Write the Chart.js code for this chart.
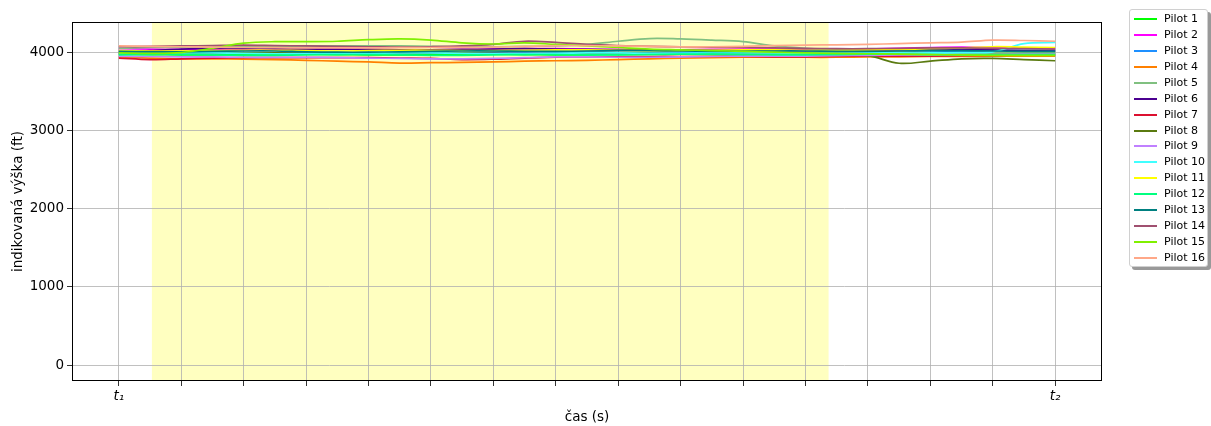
<!DOCTYPE html>
<html>
<head>
<meta charset="utf-8">
<script src="https://cdn.jsdelivr.net/npm/chart.js@4"></script>
<style>
  body { margin: 0; background: #fff; font-family: "DejaVu Sans", sans-serif; }
  #wrap { position: relative; width: 1211px; height: 426px; }
  #legend {
    position: absolute; left: 1129px; top: 9px; width: 79px; height: 258px;
    background: #fff; border: 1px solid #d0d0d0; border-radius: 3px;
    box-shadow: 3px 3px 0 #999; box-sizing: border-box;
  }
  .row { position: absolute; left: 0; height: 16px; width: 79px; font-size: 11px; color: #000; }
  .row i { position: absolute; left: 4px; top: 7px; width: 23px; height: 2px; }
  .row span { position: absolute; left: 34px; top: 1px; white-space: nowrap; }
</style>
</head>
<body>
<div id="wrap">
  <canvas id="chart" width="1211" height="426"></canvas>
  <div id="legend"></div>
</div>
<script>
/* ===============================
   DATA
================================ */
// time samples, in tick units (t1 = 0, t2 = 15)
const times = [0, 0.5, 1, 1.5, 2, 2.5, 3, 3.5, 4, 4.5, 5, 5.5, 6, 6.5, 7, 7.5,
  8, 8.5, 9, 9.5, 10, 10.5, 11, 11.5, 12, 12.5, 13, 13.5, 14, 14.5, 15];

const pilotNames = ["Pilot 1", "Pilot 2", "Pilot 3", "Pilot 4", "Pilot 5", "Pilot 6",
  "Pilot 7", "Pilot 8", "Pilot 9", "Pilot 10", "Pilot 11", "Pilot 12", "Pilot 13",
  "Pilot 14", "Pilot 15", "Pilot 16"];

const pilotColors = ["#00ff00", "#ff00ff", "#1e90ff", "#ff8000", "#80c080", "#4b0090",
  "#dc1030", "#5a7a10", "#c080ff", "#40ffff", "#ffff00", "#00ff80", "#008080",
  "#a05070", "#80f000", "#ffa888"];

const pilot1 = [3985, 3980, 3975, 3975, 3980, 3985, 3985, 3980, 3975, 3975, 3980, 3985, 3985, 3980, 3975, 3975,
  3980, 3985, 3985, 3980, 3980, 3985, 3985, 3980, 3975, 3975, 3980, 3985, 3990, 3990, 3990];
const pilot2 = [4055, 4050, 4045, 4040, 4040, 4045, 4050, 4050, 4045, 4040, 4040, 4045, 4050, 4055, 4055, 4050,
  4045, 4040, 4040, 4045, 4050, 4050, 4045, 4045, 4050, 4060, 4070, 4075, 4070, 4065, 4060];
const pilot3 = [4000, 4005, 4010, 4010, 4005, 4000, 3995, 3990, 3990, 3995, 4000, 4005, 4010, 4015, 4015, 4010,
  4005, 4000, 4000, 4005, 4010, 4010, 4005, 4000, 4000, 4005, 4010, 4020, 4030, 4035, 4035];
const pilot4 = [3950, 3935, 3925, 3925, 3920, 3915, 3905, 3895, 3885, 3870, 3875, 3880, 3885, 3895, 3900, 3905,
  3915, 3925, 3935, 3940, 3945, 3945, 3945, 3945, 3950, 3950, 3955, 3955, 3960, 3960, 3960];
const pilot5 = [4060, 4070, 4075, 4080, 4085, 4085, 4090, 4090, 4090, 4090, 4085, 4080, 4080, 4085, 4090, 4110,
  4150, 4185, 4180, 4165, 4145, 4090, 4060, 4045, 4030, 4010, 4000, 4000, 4000, 4005, 4005];
const pilot6 = [4020, 4030, 4050, 4060, 4060, 4055, 4050, 4050, 4045, 4040, 4040, 4045, 4050, 4055, 4050, 4045,
  4040, 4040, 4040, 4035, 4035, 4030, 4030, 4030, 4035, 4040, 4045, 4045, 4040, 4030, 4025];
const pilot7 = [3935, 3915, 3925, 3935, 3940, 3940, 3940, 3940, 3940, 3935, 3930, 3915, 3920, 3935, 3945, 3950,
  3950, 3955, 3955, 3955, 3955, 3950, 3950, 3955, 3960, 3960, 3960, 3965, 3970, 3975, 3975];
const pilot8 = [3995, 3990, 3990, 3995, 4000, 4000, 3995, 3990, 3990, 3995, 4000, 4000, 3995, 3990, 3990, 3995,
  4000, 3995, 3990, 3990, 3990, 3985, 3985, 3980, 3965, 3868, 3895, 3925, 3930, 3915, 3900];
const pilot9 = [3960, 3955, 3950, 3950, 3945, 3945, 3945, 3940, 3935, 3930, 3925, 3925, 3930, 3940, 3950, 3950,
  3945, 3945, 3950, 3955, 3960, 3960, 3960, 3965, 3970, 3975, 3975, 3980, 3980, 3985, 3985];
const pilot10 = [3990, 3995, 4000, 4000, 3995, 3990, 3990, 3990, 3995, 4000, 4000, 3995, 3990, 3990, 3995, 4000,
  4000, 3995, 3995, 4000, 4000, 4000, 3995, 3995, 4000, 4000, 4000, 4005, 4015, 4120, 4135];
const pilot11 = [4030, 4025, 4025, 4030, 4035, 4035, 4030, 4025, 4030, 4035, 4035, 4030, 4030, 4035, 4040, 4040,
  4035, 4030, 4030, 4035, 4040, 4040, 4035, 4035, 4040, 4045, 4055, 4065, 4080, 4075, 4070];
const pilot12 = [3975, 3980, 3980, 3975, 3970, 3970, 3975, 3980, 3980, 3975, 3970, 3970, 3975, 3980, 3980, 3975,
  3975, 3980, 3985, 3985, 3980, 3975, 3975, 3980, 3985, 3985, 3980, 3975, 3975, 3980, 3980];
const pilot13 = [4020, 4015, 4015, 4020, 4025, 4025, 4015, 4010, 4010, 4015, 4020, 4025, 4025, 4020, 4020, 4025,
  4030, 4030, 4025, 4020, 4020, 4025, 4025, 4020, 4020, 4025, 4030, 4030, 4025, 4020, 4020];
const pilot14 = [4080, 4085, 4090, 4095, 4100, 4095, 4090, 4085, 4080, 4075, 4080, 4090, 4110, 4150, 4135, 4110,
  4095, 4085, 4080, 4075, 4070, 4065, 4060, 4055, 4055, 4060, 4065, 4065, 4060, 4055, 4050];
const pilot15 = [4000, 3995, 4005, 4060, 4125, 4145, 4145, 4150, 4170, 4180, 4165, 4130, 4115, 4130, 4110, 4090,
  4070, 4050, 4040, 4030, 4020, 4010, 4000, 3995, 3990, 3985, 3980, 3975, 3970, 3970, 3970];
const pilot16 = [4090, 4085, 4080, 4075, 4070, 4068, 4065, 4065, 4065, 4068, 4070, 4072, 4075, 4085, 4095, 4095,
  4090, 4085, 4080, 4080, 4085, 4095, 4100, 4105, 4110, 4120, 4130, 4140, 4165, 4160, 4150];

const pilotSeries = [pilot1, pilot2, pilot3, pilot4, pilot5, pilot6, pilot7, pilot8,
  pilot9, pilot10, pilot11, pilot12, pilot13, pilot14, pilot15, pilot16];

const xTicks = [0, 1, 2, 3, 4, 5, 6, 7, 8, 9, 10, 11, 12, 13, 14, 15];
const xTickLabels = { 0: "t\u2081", 15: "t\u2082" };
const yTicks = [0, 1000, 2000, 3000, 4000];

// highlighted interval (yellow band)
const spanStart = 0.53;
const spanEnd = 11.37;

/* ===============================
   PLUGINS
================================ */
const bandPlugin = {
  id: "band",
  beforeDraw(chart) {
    const { ctx, chartArea, scales } = chart;
    const x1 = scales.x.getPixelForValue(spanStart);
    const x2 = scales.x.getPixelForValue(spanEnd);
    ctx.save();
    ctx.fillStyle = "#ffffc0";
    ctx.fillRect(x1, chartArea.top, x2 - x1, chartArea.bottom - chartArea.top);
    ctx.restore();
  },
  afterDraw(chart) {
    const { ctx, chartArea } = chart;
    ctx.save();
    ctx.strokeStyle = "#000";
    ctx.lineWidth = 1;
    ctx.strokeRect(chartArea.left + 0.5, chartArea.top + 0.5,
      chartArea.right - chartArea.left - 1, chartArea.bottom - chartArea.top - 1);
    ctx.restore();
  },
};

/* ===============================
   CHART
================================ */
const datasets = pilotSeries.map((vals, i) => ({
  label: pilotNames[i],
  data: times.map((t, j) => ({ x: t, y: vals[j] })),
  borderColor: pilotColors[i],
  borderWidth: 1.7,
  pointRadius: 0,
  tension: 0.35,
  order: pilotSeries.length - i,
}));

const FONT = "'DejaVu Sans', sans-serif";

new Chart(document.getElementById("chart"), {
  type: "line",
  data: { datasets },
  options: {
    responsive: false,
    animation: false,
    layout: { padding: { top: 22, right: 109, left: 0, bottom: 0 } },
    plugins: {
      legend: { display: false },
      tooltip: { enabled: false },
    },
    scales: {
      x: {
        type: "linear",
        min: -0.75,
        max: 15.75,
        afterBuildTicks: (s) => { s.ticks = xTicks.map((v) => ({ value: v })); },
        afterFit: (s) => { s.height = 45; },
        grid: { color: "#b0b0b0", lineWidth: 0.8, tickColor: "#000", tickLength: 5 },
        border: { display: false },
        ticks: {
          autoSkip: false,
          maxRotation: 0,
          padding: 2,
          color: "#000",
          font: { family: FONT, size: 13.5, style: "italic" },
          callback: (v) => xTickLabels[v] || "",
        },
        title: {
          display: true,
          text: "čas (s)",
          color: "#000",
          padding: { top: 2, bottom: 0 },
          font: { family: FONT, size: 13.5 },
        },
      },
      y: {
        min: -205,
        max: 4397,
        afterBuildTicks: (s) => { s.ticks = yTicks.map((v) => ({ value: v })); },
        afterFit: (s) => { s.width = 72; },
        grid: { color: "#b0b0b0", lineWidth: 0.8, tickColor: "#000", tickLength: 5 },
        border: { display: false },
        ticks: {
          padding: 3,
          color: "#000",
          font: { family: FONT, size: 13.5 },
          callback: (v) => String(v),
        },
        title: {
          display: true,
          text: "indikovaná výška (ft)",
          color: "#000",
          padding: { top: 10, bottom: 0 },
          font: { family: FONT, size: 13.5 },
        },
      },
    },
  },
  plugins: [bandPlugin],
});

/* ===============================
   LEGEND
================================ */
const legendBox = document.getElementById("legend");
pilotNames.forEach((name, i) => {
  const row = document.createElement("div");
  row.className = "row";
  row.style.top = (1 + i * 15.93) + "px";
  row.innerHTML = '<i style="background:' + pilotColors[i] + '"></i><span>' + name + "</span>";
  legendBox.appendChild(row);
});
</script>
</body>
</html>
